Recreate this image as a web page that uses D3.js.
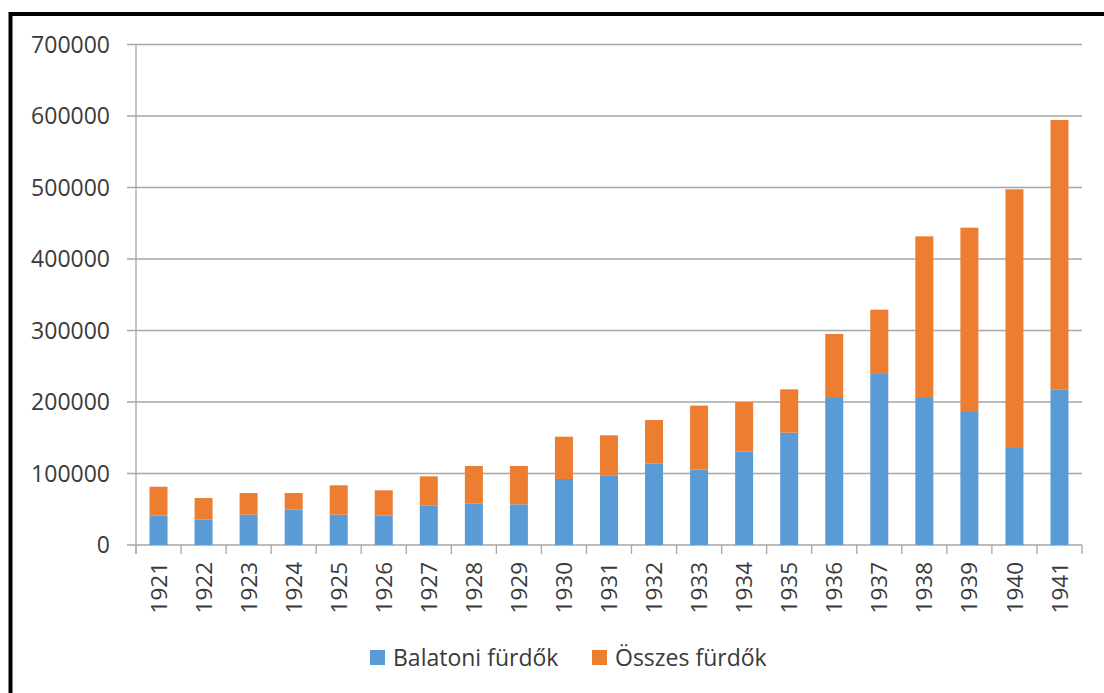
<!DOCTYPE html>
<html><head><meta charset="utf-8">
<script src="https://cdn.jsdelivr.net/npm/d3@7"></script>
<style>body{margin:0;background:#fff}svg{display:block}</style>
</head><body><svg id="c" width="1104" height="693"></svg>
<script>
const years = ["1921","1922","1923","1924","1925","1926","1927","1928","1929","1930","1931","1932","1933","1934","1935","1936","1937","1938","1939","1940","1941"];
const balatoni = [41000,35900,42400,49900,42400,41000,55500,58300,56900,92300,97500,114200,105400,130500,157100,205600,239200,205600,186000,135700,217800];
const osszes = [40500,29800,30300,22800,41100,35500,40500,52200,53600,59200,55900,60600,89500,69500,60600,89500,89900,226100,257800,361800,376600];
const yTicks = [0,100000,200000,300000,400000,500000,600000,700000];
const seriesNames = ["Balatoni fürdők","Összes fürdők"];
const colors = ["#5B9BD5","#ED7D31"];

const svg = d3.select("#c");
const font = "'Open Sans', 'Noto Sans', sans-serif";
const textColor = "#3a3a3a";
svg.append("rect").attr("x",10.5).attr("y",14).attr("width",1200).attr("height",800)
  .attr("fill","none").attr("stroke","#000").attr("stroke-width",4);

const L=136, R=1082, T=44.5, B=545;
const xb = d3.scaleBand().domain(years).range([L,R]);
const y = d3.scaleLinear().domain([0,700000]).range([B,T]);

// gridlines
svg.append("g").selectAll("line").data(yTicks).join("line")
  .attr("x1",L-9).attr("x2",R).attr("y1",d=>y(d)).attr("y2",d=>y(d))
  .attr("stroke","#a6a6a6").attr("stroke-width",1.3);
// y labels
svg.append("g").selectAll("text").data(yTicks).join("text")
  .attr("x",110).attr("y",d=>y(d)).attr("dy","0.36em").attr("text-anchor","end")
  .attr("font-family",font).attr("font-size",23).attr("fill",textColor).text(d=>d);
// y axis line
svg.append("line").attr("x1",L).attr("x2",L).attr("y1",T).attr("y2",B+9).attr("stroke","#a6a6a6").attr("stroke-width",1.3);
// x ticks
const xticks = years.map(d=>xb(d)+xb.bandwidth()).concat([L]);
svg.append("g").selectAll("line").data(xticks).join("line")
  .attr("x1",d=>d).attr("x2",d=>d).attr("y1",B).attr("y2",B+9).attr("stroke","#a6a6a6").attr("stroke-width",1.3);

// stacked bars
const rows = years.map((yr,i)=>({year:yr, b:balatoni[i], o:osszes[i]}));
const stack = d3.stack().keys(["b","o"])(rows);
const bw = 18;
svg.append("g").selectAll("g").data(stack).join("g").attr("fill",(d,i)=>colors[i])
  .selectAll("rect").data(d=>d).join("rect")
  .attr("x",d=>xb(d.data.year)+xb.bandwidth()/2-bw/2).attr("width",bw)
  .attr("y",d=>y(d[1])).attr("height",d=>y(d[0])-y(d[1]));

// x labels
svg.append("g").selectAll("text").data(years).join("text")
  .attr("transform",d=>`translate(${xb(d)+xb.bandwidth()/2},562) rotate(-90)`)
  .attr("dy","0.36em").attr("text-anchor","end")
  .attr("font-family",font).attr("font-size",22.5).attr("fill",textColor).text(d=>d);

// legend
const lg = svg.append("g");
const lx = [370,592];
seriesNames.forEach((n,i)=>{
  lg.append("rect").attr("x",lx[i]).attr("y",650).attr("width",15).attr("height",15).attr("fill",colors[i]);
  lg.append("text").attr("x",lx[i]+23).attr("y",666).attr("font-family",font).attr("font-size",23)
    .attr("fill",textColor).text(n);
});
</script></body></html>
